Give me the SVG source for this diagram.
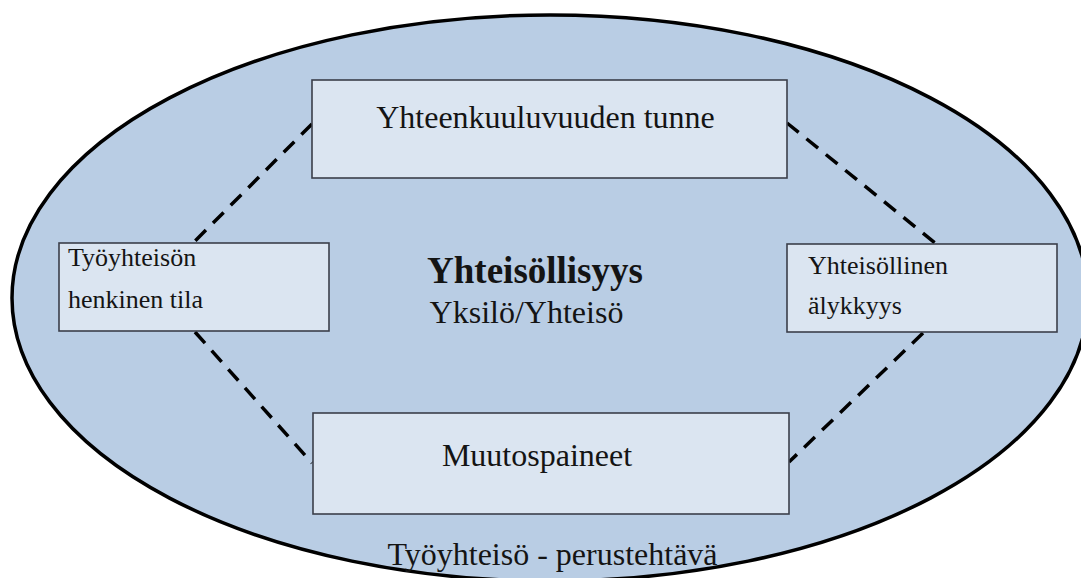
<svg xmlns="http://www.w3.org/2000/svg" width="1081" height="578" viewBox="0 0 1081 578">
<style>
.bg{fill:#ffffff}
.ell{fill:#b9cde4;stroke:#000;stroke-width:3.5}
.box{fill:#dbe5f1;stroke:#3b3f4a;stroke-width:1.6}
.t{font-family:"Liberation Serif","Times New Roman",serif;fill:#141414}
.big{font-size:32px}
.small{font-size:26px}
.bold{font-size:37px;font-weight:bold}
.dash{stroke:#000;stroke-width:3.5;stroke-dasharray:15 10;fill:none}
</style>
<rect class="bg" x="0" y="0" width="1081" height="578"/>
<g id="community">
<ellipse class="ell" cx="550" cy="298" rx="538" ry="283"/>
</g>
<g id="connectors">
<line class="dash" x1="312" y1="124" x2="193" y2="243"/>
<line class="dash" x1="195" y1="332" x2="312" y2="463"/>
<line class="dash" x1="787" y1="123" x2="935" y2="243"/>
<line class="dash" x1="923" y1="333" x2="789" y2="462"/>
</g>
<g id="belonging">
<rect class="box" x="312" y="80" width="475" height="98"/>
<text class="t big" x="545.5" y="128" text-anchor="middle">Yhteenkuuluvuuden tunne</text>
</g>
<g id="spiritual">
<rect class="box" x="59" y="243" width="270" height="88"/>
<text class="t small" x="68" y="266">Työyhteisön</text>
<text class="t small" x="68" y="308">henkinen tila</text>
</g>
<g id="intelligence">
<rect class="box" x="787" y="244" width="270" height="88"/>
<text class="t small" x="808" y="274">Yhteisöllinen</text>
<text class="t small" x="808" y="314">älykkyys</text>
</g>
<g id="pressures">
<rect class="box" x="313" y="413" width="476" height="101"/>
<text class="t big" x="537" y="466" text-anchor="middle">Muutospaineet</text>
</g>
<g id="center">
<text class="t bold" x="535" y="283" text-anchor="middle">Yhteisöllisyys</text>
<text class="t big" x="526.5" y="323" text-anchor="middle">Yksilö/Yhteisö</text>
</g>
<g id="basetask">
<text class="t big" x="552.5" y="565" text-anchor="middle">Työyhteisö - perustehtävä</text>
</g>
</svg>
